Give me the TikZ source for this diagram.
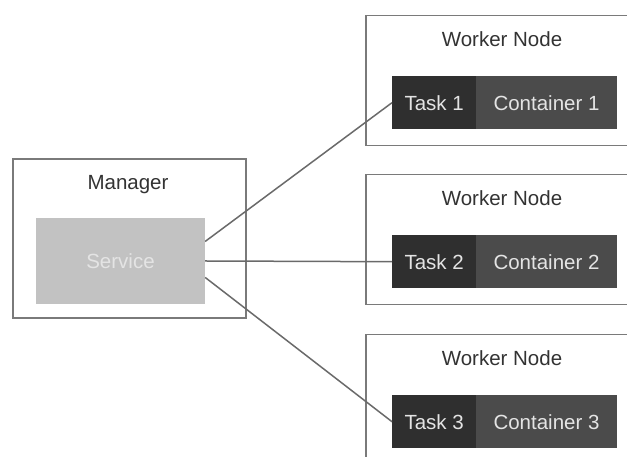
\documentclass[tikz,border=0pt]{standalone}
\usepackage{fontspec}
\setmainfont{Liberation Sans}
\usetikzlibrary{positioning}
\definecolor{boxline}{HTML}{7A7A7A}
\definecolor{linkline}{HTML}{6A6A6A}
\definecolor{taskfill}{HTML}{2F2F2F}
\definecolor{contfill}{HTML}{4B4B4B}
\definecolor{servfill}{HTML}{C2C2C2}
\definecolor{lighttext}{HTML}{E4E4E4}

\begin{document}
\begin{tikzpicture}[x=1pt,y=1pt,
    every node/.style={font=\fontsize{20.5pt}{24pt}\selectfont,text=black!80},
    frame/.style={draw=boxline,line width=1.5pt,inner sep=0pt},
    task/.style={fill=taskfill,text=lighttext,minimum height=53pt,inner sep=0pt},
    link/.style={draw=linkline,line width=1.5pt}]
        \clip (0,0) rectangle (627,457);
        \fill[white] (0,0) rectangle (627,457);
        % manager side
        \node[frame,minimum width=233pt,minimum height=159pt] (manager) at (129.5,218.5) {};
        \node (mlabel) at (128,272) {Manager};
        \node[fill=servfill,text=lighttext,inner sep=0pt,minimum width=169pt,minimum height=86pt] (service) at (120.5,196) {Service};
        % worker nodes
        \foreach \i/\y in {1/442,2/283,3/123} {
            \node[frame,anchor=north west,minimum width=280pt,minimum height=130pt] (w\i) at (365,\y) {};
            \node (wlabel\i) at (502,\y-24) {Worker Node};
            \node[task,anchor=north west,minimum width=84pt] (t\i) at (392,\y-61) {Task \i};
            \node[task,fill=contfill,minimum width=141pt,right=-0.6pt of t\i] (c\i) {Container \i};
        }
        % links
        \draw[link] (service.13) -- (t1.west);
        \draw[link] (service.east) -- (t2.west);
        \draw[link] (service.-11) -- (t3.west);
    \end{tikzpicture}
\end{document}
